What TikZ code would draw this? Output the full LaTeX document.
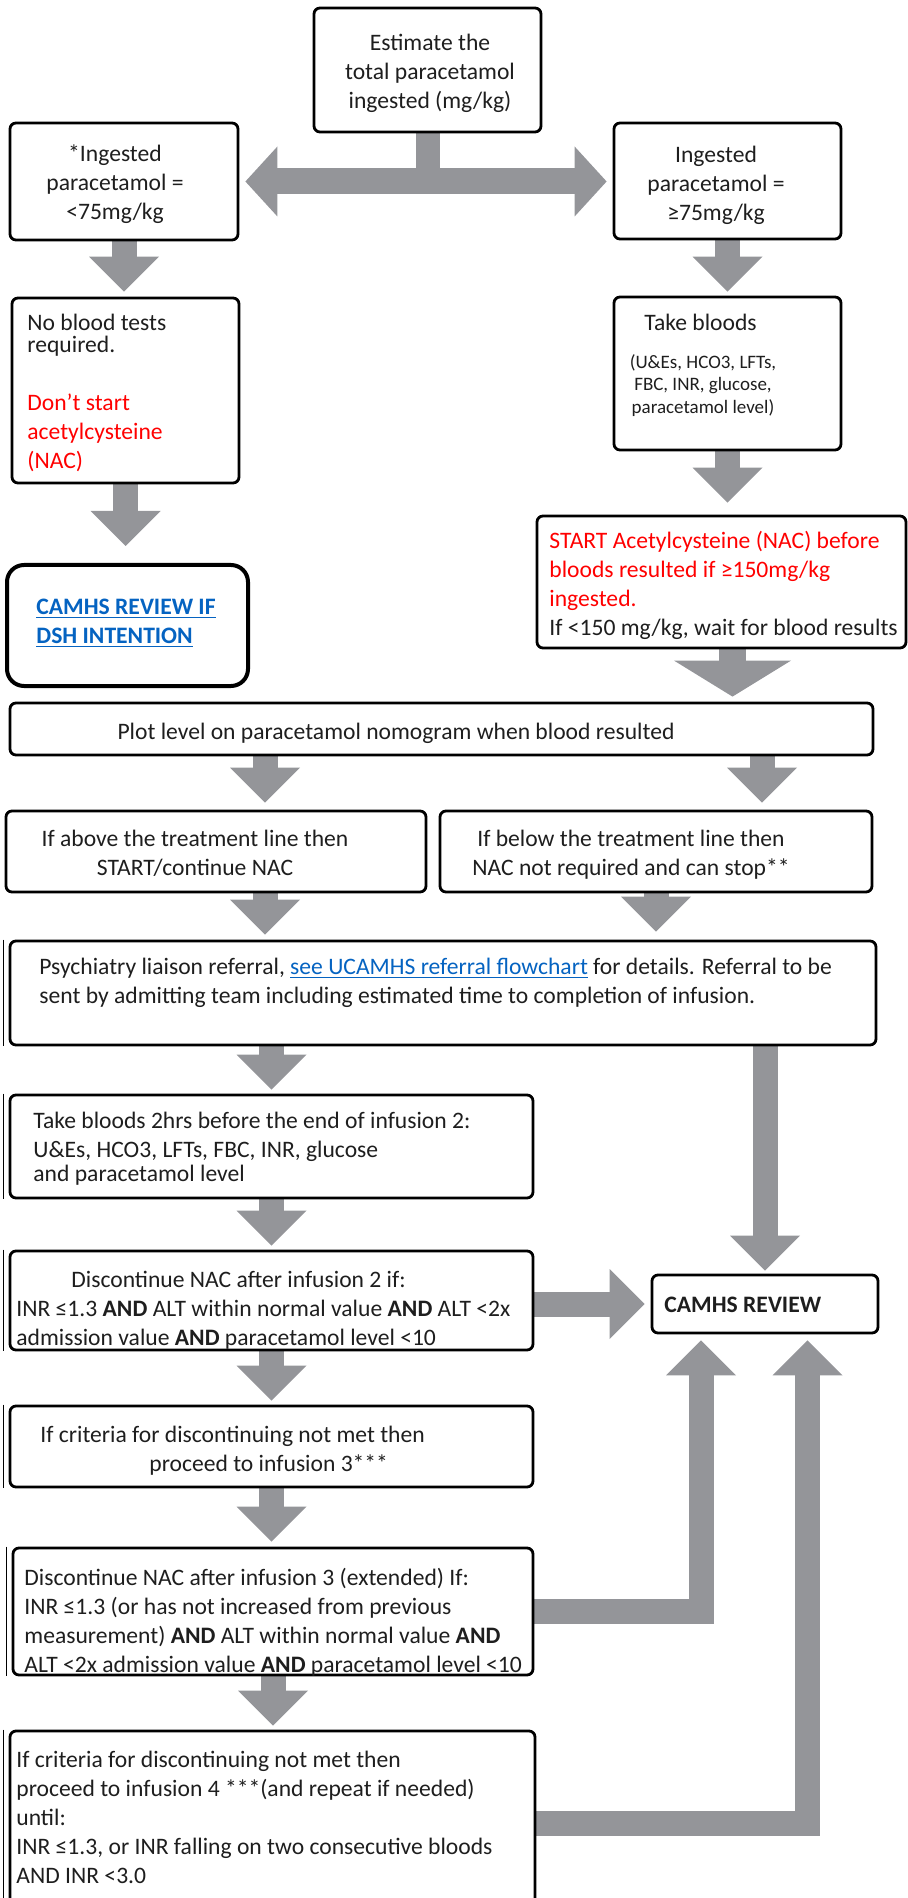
\documentclass[tikz,border=0pt]{standalone}
\usepackage{fontspec}
\setmainfont{Carlito}
\usetikzlibrary{arrows.meta,positioning,fit,backgrounds}
\definecolor{arrowgrey}{RGB}{148,149,153}
\definecolor{linkblue}{RGB}{5,99,193}
\definecolor{textgrey}{RGB}{30,30,30}
\tikzset{
	box/.style={draw=black, line width=1.4pt, rounded corners=3pt, inner sep=0pt, fit={#1}},
	roundbox/.style={box={#1}, line width=2pt, rounded corners=8.5pt},
	txt/.style={inner sep=0pt, anchor=north west, align=left, text=textgrey, font=\fontsize{11.8}{14.5}\selectfont},
	ctxt/.style={txt, anchor=north, align=center},
	smalltxt/.style={ctxt, font=\fontsize{9.5}{11.2}\selectfont},
	redtxt/.style={txt, text=red},
	flow/.style={draw=arrowgrey, line width=12.5pt, -{Triangle[width=35pt,length=17.5pt,line width=0pt]}},
	bigflow/.style={draw=arrowgrey, line width=13.5pt, -{Triangle[width=58.5pt,length=18pt,line width=0pt]}},
	twoflow/.style={draw=arrowgrey, line width=13pt, {Triangle[width=35pt,length=16pt,line width=0pt]}-{Triangle[width=35pt,length=16pt,line width=0pt]}},
	stem/.style={draw=arrowgrey, line width=12pt}
}
\newcommand{\linktext}[1]{\textcolor{linkblue}{\underline{#1}}}

\begin{document}
\begin{tikzpicture}[x=0.5pt,y=-0.5pt]
	\useasboundingbox (0,0) rectangle (907,1898);
	%%% boxes
	\node[box={(314,8) (541,132)}] (estimate) {};
	\node[box={(10,123) (238,240)}] (lowdose) {};
	\node[box={(614,123) (841,239)}] (highdose) {};
	\node[box={(12,298) (239,483)}] (noblood) {};
	\node[box={(614,297) (841,450)}] (takebloods) {};
	\node[roundbox={(7,565) (248,686)}] (dshreview) {};
	\node[box={(537,516) (906,648)}] (startnac) {};
	\node[box={(10,703) (873,755)}] (plot) {};
	\node[box={(6,811) (426,892)}] (above) {};
	\node[box={(440,811) (872,892)}] (below) {};
	\node[box={(10,941) (876,1045)}] (referral) {};
	\node[box={(10,1095) (533,1198)}] (repeatbloods) {};
	\node[box={(10,1251) (533,1350)}] (stoptwo) {};
	\node[box={(652,1275) (878,1333)}] (review) {};
	\node[box={(10,1406) (533,1487)}] (infthree) {};
	\node[box={(13,1548) (533,1675)}] (stopthree) {};
	\node[box={(10,1731) (535,1904)}] (inffour) {};
	\foreach \b in {referral,repeatbloods,stoptwo,infthree,stopthree,inffour}
		\draw[line width=0.6pt] ([xshift=-2.5pt]\b.north west) -- ([xshift=-2.5pt]\b.south west);

	%%% texts
	\node[ctxt] (estimatetxt) at (430,34) {Estimate the\\total paracetamol\\ingested (mg/kg)};
	\node[ctxt] (lowdosetxt) at (115,144) {*Ingested\\paracetamol =\\<75mg/kg};
	\node[ctxt] (highdosetxt) at (716,146) {Ingested\\paracetamol =\\≥75mg/kg};
	\node[txt, font=\fontsize{11.8}{10.8}\selectfont] (noneedtxt) at (27,314) {No blood tests\\required.};
	\node[redtxt] (nonactxt) at (27,393) {Don’t start\\acetylcysteine\\(NAC)};
	\node[txt] (takebloodstxt) at (644,314) {Take bloods};
	\node[smalltxt] (bloodlisttxt) at (703,354) {(U\&Es, HCO3, LFTs,\\FBC, INR, glucose,\\paracetamol level)};
	\node[txt, font=\fontsize{11.8}{14.2}\selectfont\bfseries] (dshtxt) at (36,599) {\linktext{CAMHS REVIEW IF}\\\linktext{DSH INTENTION}};
	\node[txt] (startnactxt) at (549,531) {\textcolor{red}{START Acetylcysteine (NAC) before}\\\textcolor{red}{bloods resulted if ≥150mg/kg}\\\textcolor{red}{ingested.}\\If <150 mg/kg, wait for blood results};
	\node[ctxt] (plottxt) at (396,723) {Plot level on paracetamol nomogram when blood resulted};
	\node[ctxt] (abovetxt) at (195,830) {If above the treatment line then\\START/continue NAC};
	\node[ctxt] (belowtxt) at (631,830) {If below the treatment line then\\NAC not required and can stop**};
	\node[txt] (referraltxt) at (39,958) {Psychiatry liaison referral, \linktext{see UCAMHS referral flowchart} for details. Referral to be\\sent by admitting team including estimated time to completion of infusion.};
	\node[txt] (repeatbloodstxt) at (33,1112) {Take bloods 2hrs before the end of infusion 2:\\U\&Es, HCO3, LFTs, FBC, INR, glucose\\[-2.5pt]and paracetamol level};
	\node[txt] (stoptwotxt) at (16,1271) {\hspace{27.5pt}Discontinue NAC after infusion 2 if:\\INR ≤1.3 \textbf{AND} ALT within normal value \textbf{AND} ALT <2x\\admission value \textbf{AND} paracetamol level <10};
	\node[txt, font=\fontsize{11.8}{14.5}\selectfont\bfseries] (reviewtxt) at (664,1297) {CAMHS REVIEW};
	\node[txt] (infthreetxt) at (40,1426) {If criteria for discontinuing not met then\\\hspace{54.5pt}proceed to infusion 3***};
	\node[txt] (stopthreetxt) at (24,1568) {Discontinue NAC after infusion 3 (extended) If:\\INR ≤1.3 (or has not increased from previous\\measurement) \textbf{AND} ALT within normal value \textbf{AND}\\ALT <2x admission value \textbf{AND} paracetamol level <10};
	\node[txt] (inffourtxt) at (16,1751) {If criteria for discontinuing not met then\\proceed to infusion 4 ***(and repeat if needed)\\until:\\INR ≤1.3, or INR falling on two consecutive bloods\\AND INR <3.0};

	%%% connectors
	\begin{scope}[on background layer]
		\coordinate (split) at (427.5,185);
		\draw[stem] (estimate.south) -- (split);
		\draw[twoflow] ([xshift=3pt]lowdose.east) -- ([xshift=-3pt]highdose.west |- lowdose.east);
		\draw[flow] (lowdose.south) -- ([yshift=2.5pt]lowdose.south |- noblood.north);
		\draw[flow] (noblood.south) -- ([yshift=8.5pt]noblood.south |- dshreview.north);
		\draw[flow] (highdose.south) -- ([yshift=2pt]highdose.south |- takebloods.north);
		\draw[flow] (takebloods.south) -- ([yshift=6pt]takebloods.south |- startnac.north);
		\draw[bigflow] ([xshift=5.5pt]startnac.south) -- ([xshift=5.5pt,yshift=2.5pt]startnac.south |- plot.north);
		\draw[flow] ([xshift=24.5pt]above.north |- plot.south) -- ([xshift=24.5pt,yshift=3.5pt]above.north);
		\draw[flow] ([xshift=53pt]below.north |- plot.south) -- ([xshift=53pt,yshift=3.5pt]below.north);
		\draw[flow] ([xshift=24.5pt]above.south) -- ([xshift=24.5pt,yshift=2.5pt]above.south |- referral.north);
		\draw[flow] (below.south) -- ([yshift=4pt]below.south |- referral.north);
		\draw[flow] (referral.south -| repeatbloods.north) -- ([yshift=2pt]repeatbloods.north);
		\draw[flow] (referral.south -| review.north) -- ([yshift=1.5pt]review.north);
		\draw[flow] (repeatbloods.south) -- ([yshift=2pt]stoptwo.north);
		\draw[flow] (stoptwo.east |- review.west) -- ([xshift=-3pt]review.west);
		\draw[flow] (stoptwo.south) -- ([yshift=2pt]infthree.north);
		\draw[flow] (infthree.south) -- ([yshift=2.5pt]infthree.south |- stopthree.north);
		\draw[flow] (stopthree.south) -- ([yshift=2pt]stopthree.south |- inffour.north);
		\draw[flow] (stopthree.east) -| ([xshift=-32pt,yshift=-3pt]review.south);
		\draw[flow] ([yshift=-3pt]inffour.east) -| ([xshift=21.25pt,yshift=-3pt]review.south);
	\end{scope}
\end{tikzpicture}
\end{document}
